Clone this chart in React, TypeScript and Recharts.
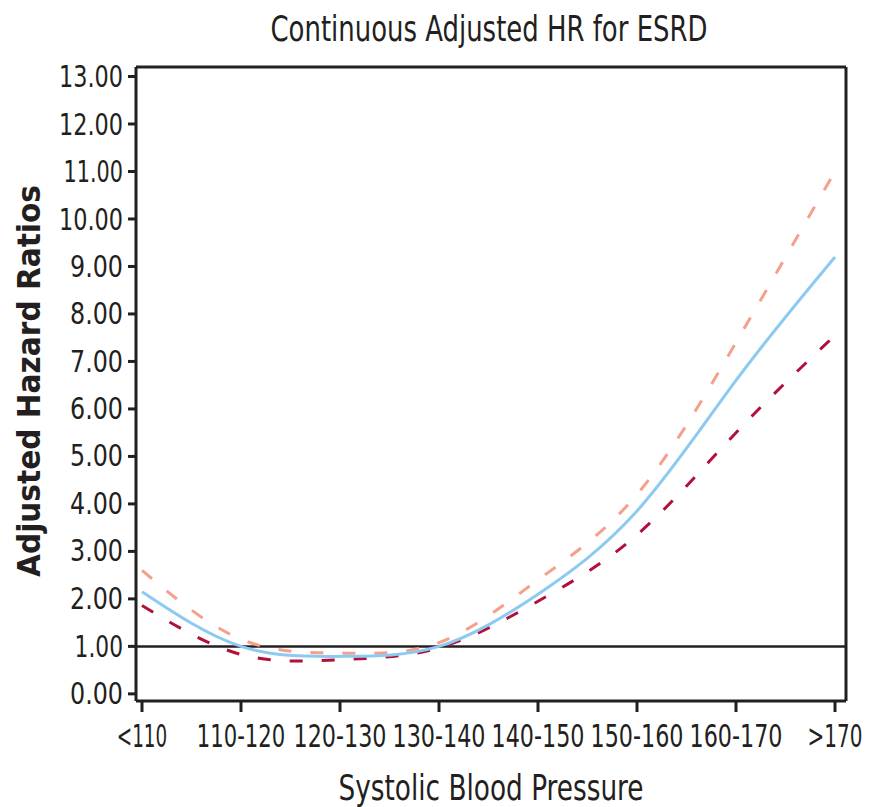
import React from 'react';
import { LineChart, Line, XAxis, YAxis, ReferenceLine, Label } from 'recharts';

const categories = ['<110', '110-120', '120-130', '130-140', '140-150', '150-160', '160-170', '>170'];
const hrEstimate = [2.15, 1.0, 0.79, 1.0, 2.1, 3.85, 6.6, 9.2];
const upperCI = [2.6, 1.15, 0.86, 1.08, 2.4, 4.2, 7.4, 11.0];
const lowerCI = [1.86, 0.83, 0.72, 0.97, 1.95, 3.35, 5.5, 7.55];
const yTicks = [0, 1, 2, 3, 4, 5, 6, 7, 8, 9, 10, 11, 12, 13];

const title = 'Continuous Adjusted HR for ESRD';
const xTitle = 'Systolic Blood Pressure';
const yTitle = 'Adjusted Hazard Ratios';

const FONT = "'Liberation Sans Narrow', 'DejaVu Sans Condensed', sans-serif";
const INK = '#231f20';

const data = categories.map((cat, i) => ({
  cat,
  hr: hrEstimate[i],
  upper: upperCI[i],
  lower: lowerCI[i],
}));

// widths (px) the labels have in the source, which uses a narrow face with a thin "1"
const targetWidth = (s: string) =>
  s.split('').reduce((w, ch) => {
    if (ch === '1') return w + 11;
    if (ch === '.') return w + 6.5;
    if (ch === '-') return w + 9;
    if (ch === '<' || ch === '>') return w + 13;
    return w + 15.5;
  }, 0);

// rough advance widths (em) of DejaVu Sans Condensed, the font that gets used here
const naturalWidth = (s: string, size: number) =>
  s.split('').reduce((w, ch) => {
    if (ch === '.') return w + 0.286;
    if (ch === '-') return w + 0.325;
    if (ch === '<' || ch === '>') return w + 0.754;
    return w + 0.5724;
  }, 0) * size;

const YTick = (props: any) => {
  const { x, y, payload } = props;
  const s = Number(payload.value).toFixed(2);
  const k = targetWidth(s) / naturalWidth(s, 30);
  return (
    <text
      transform={`translate(${x}, ${y}) scale(${k}, 1)`}
      textAnchor="end"
      dominantBaseline="central"
      fontFamily={FONT}
      fontSize={30}
      fill={INK}
    >
      {s}
    </text>
  );
};

const XTick = (props: any) => {
  const { x, y, payload } = props;
  const s = String(payload.value);
  const k = targetWidth(s) / naturalWidth(s, 32);
  return (
    <text
      transform={`translate(${x}, ${y + 33}) scale(${k}, 1)`}
      textAnchor="middle"
      fontFamily={FONT}
      fontSize={32}
      fill={INK}
    >
      {s}
    </text>
  );
};

const XTitleLabel = (props: any) => {
  const { viewBox } = props;
  return (
    <text
      x={viewBox.x + viewBox.width / 2}
      y={800}
      textAnchor="middle"
      fontFamily={FONT}
      fontSize={36}
      fill={INK}
      textLength={305}
      lengthAdjust="spacingAndGlyphs"
    >
      {xTitle}
    </text>
  );
};

const YTitleLabel = (props: any) => {
  const { viewBox } = props;
  const cx = viewBox.x + 40;
  const cy = viewBox.y + viewBox.height / 2 - 3;
  return (
    <text
      x={cx}
      y={cy}
      transform={`rotate(-90, ${cx}, ${cy})`}
      textAnchor="middle"
      fontFamily={FONT}
      fontSize={32}
      fontWeight="bold"
      fill={INK}
      textLength={392}
      lengthAdjust="spacingAndGlyphs"
    >
      {yTitle}
    </text>
  );
};

export default function App() {
  return (
    <div style={{ position: 'relative', width: 884, height: 807, background: '#fff' }}>
      <style>{'body{margin:0}'}</style>
      <svg width={884} height={60} style={{ position: 'absolute', left: 0, top: 0 }}>
        <text
          x={489}
          y={41}
          textAnchor="middle"
          fontFamily={FONT}
          fontSize={36}
          fill={INK}
          textLength={437}
          lengthAdjust="spacingAndGlyphs"
        >
          {title}
        </text>
      </svg>
      <LineChart
        width={884}
        height={807}
        data={data}
        margin={{ top: 66, right: 37, bottom: 0, left: 0 }}
      >
        <XAxis
          dataKey="cat"
          height={106}
          padding={{ left: 6, right: 11 }}
          interval={0}
          axisLine={{ stroke: INK, strokeWidth: 3 }}
          tickLine={{ stroke: INK, strokeWidth: 3 }}
          tickSize={11}
          tick={<XTick />}
        >
          <Label content={XTitleLabel} />
        </XAxis>
        <XAxis
          xAxisId="top"
          dataKey="cat"
          orientation="top"
          height={1}
          padding={{ left: 6, right: 11 }}
          tick={false}
          tickLine={false}
          axisLine={{ stroke: INK, strokeWidth: 3 }}
        />
        <YAxis
          width={136}
          domain={[-0.15, 13.2]}
          allowDataOverflow
          ticks={yTicks}
          interval={0}
          axisLine={{ stroke: INK, strokeWidth: 3 }}
          tickLine={{ stroke: INK, strokeWidth: 3 }}
          tickSize={8}
          tickMargin={5}
          tick={<YTick />}
        >
          <Label content={YTitleLabel} />
        </YAxis>
        <YAxis
          yAxisId="right"
          orientation="right"
          width={1}
          domain={[-0.15, 13.2]}
          tick={false}
          tickLine={false}
          axisLine={{ stroke: INK, strokeWidth: 3 }}
        />
        <ReferenceLine y={1} stroke={INK} strokeWidth={2.5} />
        <Line
          type="natural"
          dataKey="upper"
          stroke="#f5a08c"
          strokeWidth={3}
          strokeDasharray="13 19"
          dot={false}
          isAnimationActive={false}
        />
        <Line
          type="natural"
          dataKey="lower"
          stroke="#b0103a"
          strokeWidth={3}
          strokeDasharray="13 19"
          dot={false}
          isAnimationActive={false}
        />
        <Line
          type="natural"
          dataKey="hr"
          stroke="#8ccaf0"
          strokeWidth={3}
          dot={false}
          isAnimationActive={false}
        />
      </LineChart>
    </div>
  );
}
